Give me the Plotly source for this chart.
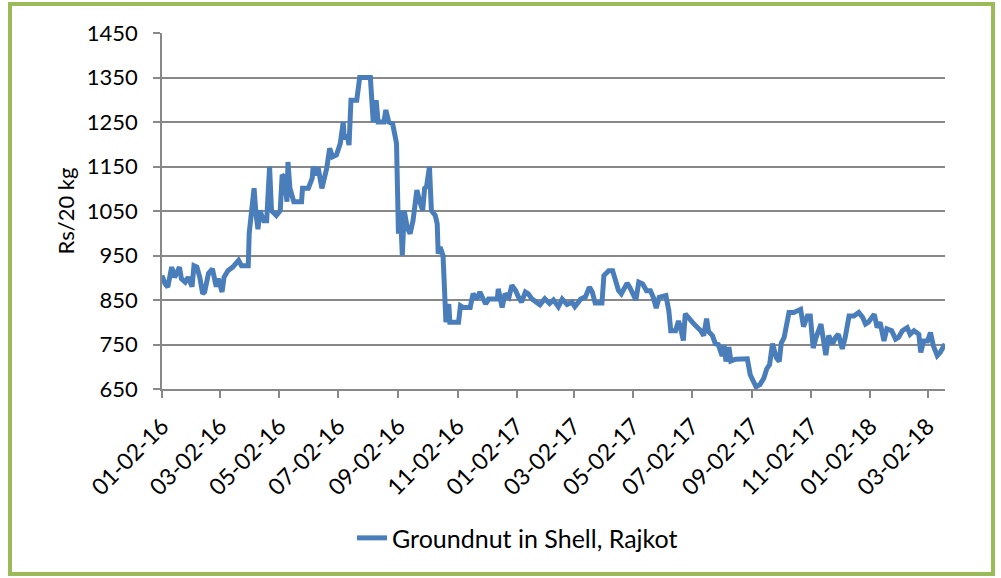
import plotly.graph_objects as go

dates = [
    "2016-01-02", "2016-01-05", "2016-01-08", "2016-01-12", "2016-01-15", "2016-01-20", "2016-01-22",
    "2016-01-26", "2016-01-29", "2016-02-02", "2016-02-04", "2016-02-07", "2016-02-10", "2016-02-13",
    "2016-02-15", "2016-02-19", "2016-02-23", "2016-02-27", "2016-02-29", "2016-03-04", "2016-03-06",
    "2016-03-10", "2016-03-15", "2016-03-21", "2016-03-24", "2016-03-31", "2016-04-01", "2016-04-04",
    "2016-04-06", "2016-04-08", "2016-04-10", "2016-04-12", "2016-04-16", "2016-04-19", "2016-04-22",
    "2016-04-24", "2016-04-29", "2016-05-03", "2016-05-05", "2016-05-07", "2016-05-10", "2016-05-11",
    "2016-05-13", "2016-05-17", "2016-05-25", "2016-05-26", "2016-06-01", "2016-06-05", "2016-06-06",
    "2016-06-10", "2016-06-11", "2016-06-15", "2016-06-18", "2016-06-20", "2016-06-23", "2016-06-26",
    "2016-06-30", "2016-07-04", "2016-07-07", "2016-07-08", "2016-07-11", "2016-07-13", "2016-07-15",
    "2016-07-21", "2016-07-24", "2016-08-04", "2016-08-07", "2016-08-10", "2016-08-12", "2016-08-18",
    "2016-08-20", "2016-08-23", "2016-08-27", "2016-08-31", "2016-09-02", "2016-09-04", "2016-09-06",
    "2016-09-08", "2016-09-11", "2016-09-14", "2016-09-17", "2016-09-21", "2016-09-24", "2016-09-27",
    "2016-09-29", "2016-10-01", "2016-10-04", "2016-10-06", "2016-10-10", "2016-10-12", "2016-10-13",
    "2016-10-15", "2016-10-18", "2016-10-20", "2016-10-21", "2016-10-24", "2016-10-25", "2016-11-03",
    "2016-11-05", "2016-11-08", "2016-11-15", "2016-11-18", "2016-11-22", "2016-11-25", "2016-12-01",
    "2016-12-04", "2016-12-13", "2016-12-14", "2016-12-18", "2016-12-21", "2016-12-25", "2016-12-28",
    "2017-01-01", "2017-01-04", "2017-01-07", "2017-01-11", "2017-01-14", "2017-01-18", "2017-01-23",
    "2017-01-26", "2017-01-31", "2017-02-05", "2017-02-09", "2017-02-14", "2017-02-18", "2017-02-23",
    "2017-02-28", "2017-03-03", "2017-03-09", "2017-03-14", "2017-03-18", "2017-03-21", "2017-03-24",
    "2017-03-31", "2017-04-02", "2017-04-07", "2017-04-11", "2017-04-14", "2017-04-17", "2017-04-20",
    "2017-04-26", "2017-04-29", "2017-05-05", "2017-05-08", "2017-05-12", "2017-05-16", "2017-05-20",
    "2017-05-23", "2017-05-26", "2017-05-29", "2017-06-03", "2017-06-05", "2017-06-08", "2017-06-10",
    "2017-06-15", "2017-06-18", "2017-06-20", "2017-06-23", "2017-06-25", "2017-06-29", "2017-07-04",
    "2017-07-11", "2017-07-14", "2017-07-17", "2017-07-19", "2017-07-23", "2017-07-26", "2017-07-29",
    "2017-08-02", "2017-08-04", "2017-08-06", "2017-08-09", "2017-08-11", "2017-08-16", "2017-08-23",
    "2017-08-28", "2017-08-31", "2017-09-04", "2017-09-06", "2017-09-10", "2017-09-14", "2017-09-17",
    "2017-09-20", "2017-09-23", "2017-09-27", "2017-09-30", "2017-10-02", "2017-10-05", "2017-10-08",
    "2017-10-10", "2017-10-15", "2017-10-19", "2017-10-22", "2017-10-25", "2017-10-29", "2017-11-01",
    "2017-11-04", "2017-11-07", "2017-11-12", "2017-11-17", "2017-11-20", "2017-11-24", "2017-11-27",
    "2017-11-30", "2017-12-04", "2017-12-07", "2017-12-11", "2017-12-16", "2017-12-21", "2017-12-25",
    "2017-12-28", "2017-12-31", "2018-01-06", "2018-01-09", "2018-01-12", "2018-01-16", "2018-01-19",
    "2018-01-24", "2018-01-28", "2018-01-31", "2018-02-04", "2018-02-09", "2018-02-12", "2018-02-16",
    "2018-02-21", "2018-02-23", "2018-02-26", "2018-03-02", "2018-03-05", "2018-03-08", "2018-03-12",
    "2018-03-15", "2018-03-20",
]

prices = [
    905, 887, 879, 924, 901, 924, 898,
    890, 901, 880, 927, 924, 901, 864,
    868, 910, 920, 880, 898, 868, 901,
    916, 924, 939, 927, 927, 1000, 1051,
    1101, 1043, 1009, 1051, 1028, 1028, 1149,
    1051, 1040, 1051, 1131, 1127, 1071, 1160,
    1101, 1071, 1071, 1101, 1101, 1124, 1149,
    1131, 1149, 1101, 1131, 1146, 1191, 1172,
    1176, 1202, 1250, 1213, 1221, 1198, 1299,
    1299, 1350, 1350, 1250, 1299, 1250, 1250,
    1277, 1250, 1246, 1202, 999, 1051, 950,
    1051, 1013, 999, 1028, 1097, 1071, 1051,
    1101, 1105, 1149, 1051, 1040, 1021, 954,
    969, 950, 879, 800, 841, 800, 800,
    837, 833, 833, 864, 852, 868, 841,
    852, 852, 875, 833, 864, 856, 883,
    871, 856, 845, 868, 864, 852, 845,
    839, 853, 842, 850, 835, 852, 840,
    845, 835, 852, 857, 879, 868, 843,
    843, 905, 916, 916, 890, 872, 864,
    888, 877, 850, 890, 886, 871, 871,
    856, 832, 856, 860, 860, 826, 781,
    781, 803, 789, 759, 819, 808, 796,
    781, 770, 808, 779, 770, 752, 750,
    724, 748, 712, 744, 713, 717, 718,
    718, 682, 661, 655, 660, 674, 695,
    705, 752, 720, 712, 753, 766, 796,
    822, 822, 826, 829, 790, 814, 814,
    742, 766, 796, 726, 770, 751, 766,
    773, 740, 766, 814, 814, 822, 811,
    796, 800, 818, 788, 800, 758, 785,
    781, 762, 766, 781, 788, 773, 781,
    773, 732, 758, 758, 777, 747, 725,
    732, 751,
]

tick_dates = [
    "2016-01-02", "2016-03-02", "2016-05-02", "2016-07-02", "2016-09-02", "2016-11-02",
    "2017-01-02", "2017-03-02", "2017-05-02", "2017-07-02", "2017-09-02", "2017-11-02",
    "2018-01-02", "2018-03-02",
]
y_ticks = [650, 750, 850, 950, 1050, 1150, 1250, 1350, 1450]

series_name = "Groundnut in Shell, Rajkot"
FONT = "Lato"
GRID = "#888888"

fig = go.Figure()
fig.add_trace(go.Scatter(
    x=dates, y=prices, mode="lines", name=series_name,
    line=dict(color="#4A7EBB", width=5),
))

fig.update_layout(
    width=1001, height=578,
    margin=dict(l=162, r=56, t=33, b=189),
    paper_bgcolor="white", plot_bgcolor="white",
    font=dict(family=FONT, size=22, color="black"),
    showlegend=True,
    legend=dict(
        orientation="h", xref="container", yref="container",
        x=0.517, xanchor="center", y=0.069, yanchor="middle",
        font=dict(family=FONT, size=25, color="black"),
        bgcolor="rgba(0,0,0,0)",
    ),
    xaxis=dict(
        type="date",
        range=["2016-01-02", "2018-03-20"],
        tickmode="array", tickvals=tick_dates, tickformat="%m-%d-%y",
        tickangle=-45,
        ticks="outside", ticklen=7, tickcolor=GRID, tickwidth=1.5,
        showline=True, linecolor=GRID, linewidth=1.5,
        showgrid=False, zeroline=False,
        ticklabelstandoff=6,
        tickfont=dict(family=FONT, size=23, color="black"),
    ),
    yaxis=dict(
        range=[650, 1450],
        tickmode="array", tickvals=y_ticks,
        ticks="outside", ticklen=7, tickcolor=GRID, tickwidth=1.5,
        showline=True, linecolor=GRID, linewidth=1.5,
        showgrid=True, gridcolor=GRID, gridwidth=1.5,
        zeroline=False,
        ticklabelstandoff=11,
        tickfont=dict(family=FONT, size=22, color="black"),
        title=dict(text="Rs/20 kg", font=dict(family=FONT, size=22, color="black"), standoff=6),
    ),
    shapes=[dict(
        type="rect", xref="paper", yref="paper",
        x0=(10 - 162) / 783, x1=(993 - 162) / 783,
        y0=(389 - 574) / 356, y1=(389 - 4) / 356,
        line=dict(color="#9BBB59", width=4), fillcolor="rgba(0,0,0,0)",
        layer="below",
    )],
)

fig.write_html(
    "out.html",
    config={"displayModeBar": False},
    post_script="document.body.style.margin='0';",
)
